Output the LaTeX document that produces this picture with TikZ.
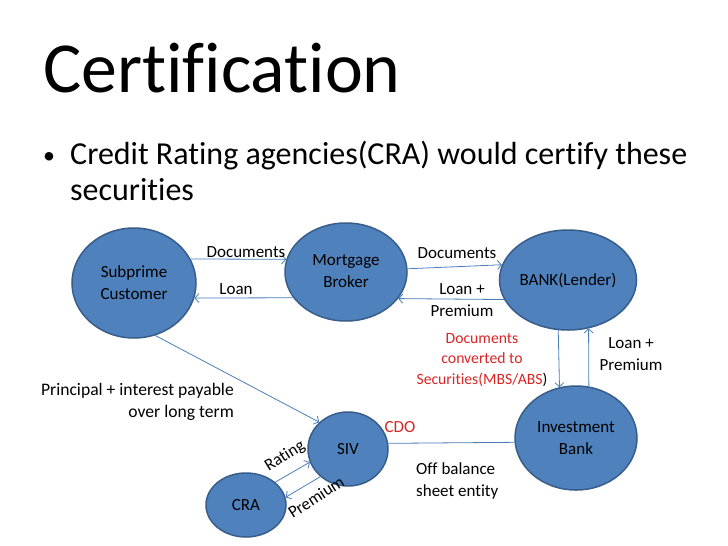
\documentclass[tikz,border=0pt]{standalone}
\usepackage{fontspec}
\setmainfont{Carlito}[Ligatures={NoCommon}]
\usetikzlibrary{shapes.geometric,arrows.meta}
\definecolor{nodefill}{HTML}{4F81BD}
\definecolor{nodeline}{HTML}{385D8A}
\definecolor{arrowc}{HTML}{4A7EBB}
\definecolor{redtext}{HTML}{D92626}
\begin{document}
\begin{tikzpicture}[x=1pt,y=-1pt,
  ent/.style={ellipse, fill=nodefill, draw=nodeline, line width=1.5pt, inner sep=0pt,
    font=\fontsize{17}{22}\selectfont, align=center, text=black},
  flow/.style={draw=arrowc, line width=0.8pt, -{Straight Barb[length=4pt,width=9pt]}},
  link/.style={draw=arrowc, line width=0.8pt},
  lbl/.style={font=\fontsize{17}{22}\selectfont, align=center, inner sep=0pt}]
\path[use as bounding box] (0,0) rectangle (728,546);
\fill[white] (0,0) rectangle (728,546);

% title and bullet
\node[anchor=base west, inner sep=0pt, font=\fontsize{71.8}{84}\selectfont] (title) at (43,92) {Certification};
\node[anchor=base west, inner sep=0pt, font=\fontsize{24}{30}\selectfont] (dot) at (43,163) {•};
\node[anchor=base west, inner sep=0pt, font=\fontsize{32}{38}\selectfont] (line1) at (70,164) {Credit Rating agencies(CRA) would certify these};
\node[anchor=base west, inner sep=0pt, font=\fontsize{32}{38}\selectfont] (line2) at (70,200) {securities};

% entities
\node[ent, minimum width=124pt, minimum height=110pt] (sc) at (134,283) {Subprime\\Customer};
\node[ent, minimum width=122pt, minimum height=98pt] (mb) at (346,272) {\raisebox{-5pt}{\begin{tabular}{@{}c@{}}Mortgage\\Broker\end{tabular}}};
\node[ent, minimum width=118pt, minimum height=100pt] (bk) at (568,280) {BANK(Lender)};
\node[ent, minimum width=122pt, minimum height=104pt] (ib) at (576,438) {Investment\\Bank};
\node[ent, minimum width=80pt, minimum height=74pt] (siv) at (348,449) {SIV};
\node[ent, minimum width=80pt, minimum height=64pt] (cra) at (246,505) {CRA};

% connectors
\draw[flow] (sc.23.3) -- (mb.168.5);
\draw[flow] (mb.206.7) -- (sc.346.9);
\draw[flow] (mb.3.8) -- (bk.167.1);
\draw[flow] (bk.197) -- (mb.333.3);
\draw[flow] (bk.259.7) -- (ib.108.8);
\draw[flow] (ib.76.8) -- (bk.293);
\draw[link] (siv.8.6) -- (ib.184.7);
\draw[flow] (sc.292.2) -- (siv.137);
\draw[flow] (cra.38.4) -- (siv.199);
\draw[flow] (siv.225) -- (cra.11);

% labels
\node[lbl] (l1) at (246,252) {Documents};
\node[lbl] (l2) at (236,289) {Loan};
\node[lbl] (l3) at (457,253) {Documents};
\node[lbl] (l4) at (462,300) {Loan +\\Premium};
\node[lbl, text=redtext, font=\fontsize{15.7}{20.5}\selectfont] (l5) at (482,360) {Documents\\converted to\\Securities(MBS/ABS\textcolor{black}{)}};
\node[lbl] (l6) at (631,354) {Loan +\\Premium};
\node[lbl, align=right, anchor=east, font=\fontsize{17.6}{22}\selectfont] (l7) at (234,402) {Principal + interest payable\\over long term};
\node[lbl, text=redtext] (l8) at (400,427) {CDO};
\node[lbl, align=left, anchor=west] (l9) at (416,481) {Off balance\\sheet entity};
\node[lbl, rotate=32] (l10) at (285,456) {Rating};
\node[lbl, rotate=33] (l11) at (316,497) {Premium};
\end{tikzpicture}
\end{document}
